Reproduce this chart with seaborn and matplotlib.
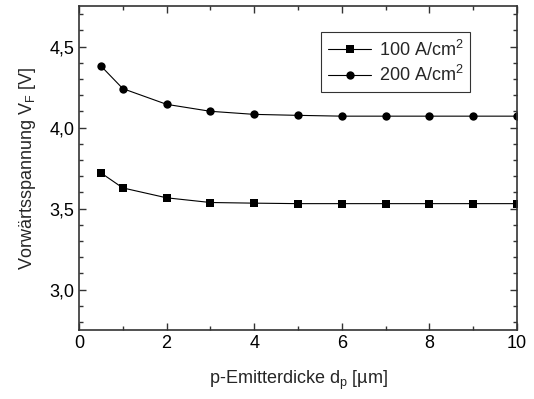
import matplotlib
matplotlib.use("Agg")
import matplotlib.pyplot as plt
import seaborn as sns
import pandas as pd
from matplotlib.ticker import MultipleLocator, FuncFormatter

thickness = [0.5, 1, 2, 3, 4, 5, 6, 7, 8, 9, 10]
vf_100 = [3.72, 3.627, 3.566, 3.537, 3.533, 3.530, 3.530, 3.530, 3.530, 3.530, 3.530]
vf_200 = [4.38, 4.24, 4.143, 4.100, 4.081, 4.075, 4.070, 4.070, 4.070, 4.070, 4.070]
labels = [r"100 A/cm$^2$", r"200 A/cm$^2$"]

df = pd.DataFrame({
    "d": thickness * 2,
    "vf": vf_100 + vf_200,
    "series": [labels[0]] * len(thickness) + [labels[1]] * len(thickness),
})

sns.set_style("ticks")
plt.rcParams["font.family"] = ["Liberation Sans", "DejaVu Sans"]
plt.rcParams["mathtext.fontset"] = "custom"
plt.rcParams["mathtext.rm"] = "Liberation Sans"
plt.rcParams["mathtext.it"] = "Liberation Sans:italic"
plt.rcParams["mathtext.default"] = "regular"

fig = plt.figure(figsize=(5.34, 3.99), dpi=100)
ax = fig.add_axes([79 / 534, 69 / 399, 438 / 534, 324 / 399])

sns.lineplot(data=df, x="d", y="vf", hue="series", style="series",
             markers={labels[0]: "s", labels[1]: "o"}, dashes=False,
             palette={labels[0]: "black", labels[1]: "black"},
             markersize=6, linewidth=0.8, markeredgewidth=0, ax=ax)

ax.set_xlim(0, 10)
ax.set_ylim(2.75, 4.75)
ax.xaxis.set_major_locator(MultipleLocator(2))
ax.xaxis.set_minor_locator(MultipleLocator(1))
ax.yaxis.set_major_locator(MultipleLocator(0.5))
ax.yaxis.set_minor_locator(MultipleLocator(0.1))
ax.yaxis.set_major_formatter(FuncFormatter(lambda v, p: f"{v:.1f}".replace(".", ",")))
ax.xaxis.set_major_formatter(FuncFormatter(lambda v, p: f"{v:.0f}"))

ax.tick_params(which="both", direction="in", top=True, right=True, colors="#333333",
               labelcolor="black", labelsize=13)
ax.tick_params(which="major", length=5, width=1)
ax.tick_params(which="minor", length=3, width=1)
for s in ax.spines.values():
    s.set_color("#333333")
    s.set_linewidth(1.2)

ax.set_xlabel(r"p-Emitterdicke d$_p$ [µm]", fontsize=13, labelpad=12)
ax.set_ylabel(r"Vorwärtsspannung V$_F$ [V]", fontsize=13, labelpad=8)

leg = ax.legend(loc="upper left", bbox_to_anchor=(0.552, 0.919), borderaxespad=0,
                fontsize=13, frameon=True, fancybox=False, edgecolor="black",
                handlelength=2.4, handletextpad=0.4, borderpad=0.4, labelspacing=0.3)
leg.get_frame().set_linewidth(0.8)
leg.set_title(None)

fig.savefig("out.png", dpi=100)
